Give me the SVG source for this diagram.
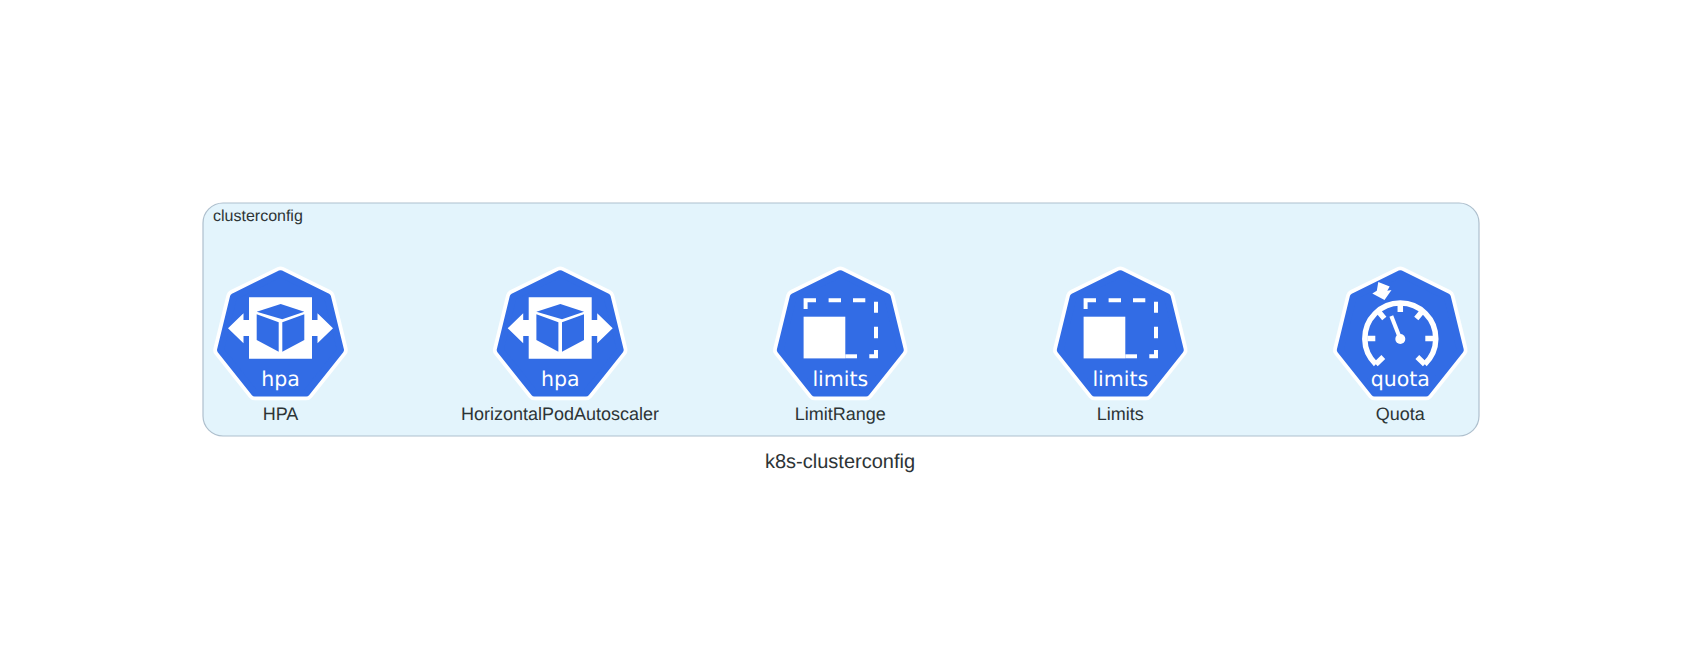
<svg xmlns="http://www.w3.org/2000/svg" xmlns:xlink="http://www.w3.org/1999/xlink" width="1681" height="672" viewBox="0 0 1681 672">
<style>
text{text-rendering:geometricPrecision}
.lbl{font-family:"Liberation Sans",Arial,sans-serif;fill:#2d3436;font-size:18px;text-anchor:middle}
.sub{font-family:"Liberation Sans",Arial,sans-serif;fill:#2d3436;font-size:16px}
.ttl{font-family:"Liberation Sans",Arial,sans-serif;fill:#2d3436;font-size:20px;text-anchor:middle}
.ico{font-family:"DejaVu Sans",sans-serif;fill:#fff;font-size:20.5px;text-anchor:middle}
.w{fill:#fff}
.b{fill:#326ce5}
.ln{fill:none;stroke:#fff;stroke-width:4}
.g{fill:none;stroke:#fff;stroke-width:5.5}
</style>
<defs>
<g id="hex">
<polygon points="0,273.7 47,296.8 60,350 25.8,393 -25.8,393 -60,350 -47,296.8" fill="#fff" stroke="#fff" stroke-width="14.5" stroke-linejoin="round"/>
<polygon points="0,273.7 47,296.8 60,350 25.8,393 -25.8,393 -60,350 -47,296.8" fill="#326ce5" stroke="#326ce5" stroke-width="7" stroke-linejoin="round"/>
</g>
<g id="hpaicon">
<use xlink:href="#hex" href="#hex"/>
<polygon class="w" points="-31.5,297.3 31.5,297.3 31.5,320 37,320 37,313.3 52.5,328.3 37,343.3 37,336 31.5,336 31.5,358.7 -31.5,358.7 -31.5,336 -37,336 -37,343.3 -52.5,328.3 -37,313.3 -37,320 -31.5,320"/>
<polygon class="b" points="0.2,304 23.8,311.7 1.8,319.3 -23.8,311.7"/>
<polygon class="b" points="-23.8,314.3 -1.8,322.3 -1.8,351.7 -23.8,340"/>
<polygon class="b" points="1.8,322.3 23.8,314.3 23.8,340 1.8,351.7"/>
<text class="ico" x="0" y="386">hpa</text>
</g>
<g id="limicon">
<use xlink:href="#hex" href="#hex"/>
<rect class="w" x="-36.7" y="316.7" width="41.7" height="41.7"/>
<rect class="w" x="5" y="354.3" width="11.7" height="4"/>
<path class="ln" d="M-34.7 309V300.3H-24.3M-11.7 300.3H.7M12.7 300.3H25M35.7 301.7V312.7M35.7 326.7V338.3M35.7 350V356.3H29"/>
<text class="ico" x="0" y="386">limits</text>
</g>
</defs>
<g id="cluster-clusterconfig">
<rect x="203" y="203" width="1276" height="233" rx="20" ry="20" fill="#e3f4fc" stroke="#aebfcd" stroke-width="1.2"/>
<text class="sub" x="213" y="221">clusterconfig</text>
</g>
<g id="node-hpa"><use xlink:href="#hpaicon" href="#hpaicon" x="280.5"/><text class="lbl" x="280.5" y="420">HPA</text></g>
<g id="node-horizontalpodautoscaler"><use xlink:href="#hpaicon" href="#hpaicon" x="560.2"/><text class="lbl" x="560" y="420">HorizontalPodAutoscaler</text></g>
<g id="node-limitrange"><use xlink:href="#limicon" href="#limicon" x="840.3"/><text class="lbl" x="840.3" y="420">LimitRange</text></g>
<g id="node-limits"><use xlink:href="#limicon" href="#limicon" x="1120.3"/><text class="lbl" x="1120.3" y="420">Limits</text></g>
<g id="node-quota">
<g transform="translate(1400.3 0)">
<use xlink:href="#hex" href="#hex"/>
<path class="g" d="M-24.5 364.2A35.5 35.5 0 1 1 24.5 364.2"/>
<path class="g" d="M-24.5 364.2L-17 357M24.5 364.2L17 357M0 303V312M-21 312.5L-16 318.5M21 312.5L16 318.5M-33 338.5H-25M33 338.5H25"/>
<path d="M-9 316L0 339" fill="none" stroke="#fff" stroke-width="4"/>
<circle class="w" cx="0" cy="339" r="5"/>
<polygon class="w" points="-22,282 -10.6,286.4 -13,290.7 -8.8,290 -15.8,300 -28,293.5 -23.5,290.7"/>
<text class="ico" x="0" y="386">quota</text>
</g>
<text class="lbl" x="1400.3" y="420">Quota</text>
</g>
<g id="connectors"></g>
<text class="ttl" id="graph-title" x="840" y="468">k8s-clusterconfig</text>
</svg>
